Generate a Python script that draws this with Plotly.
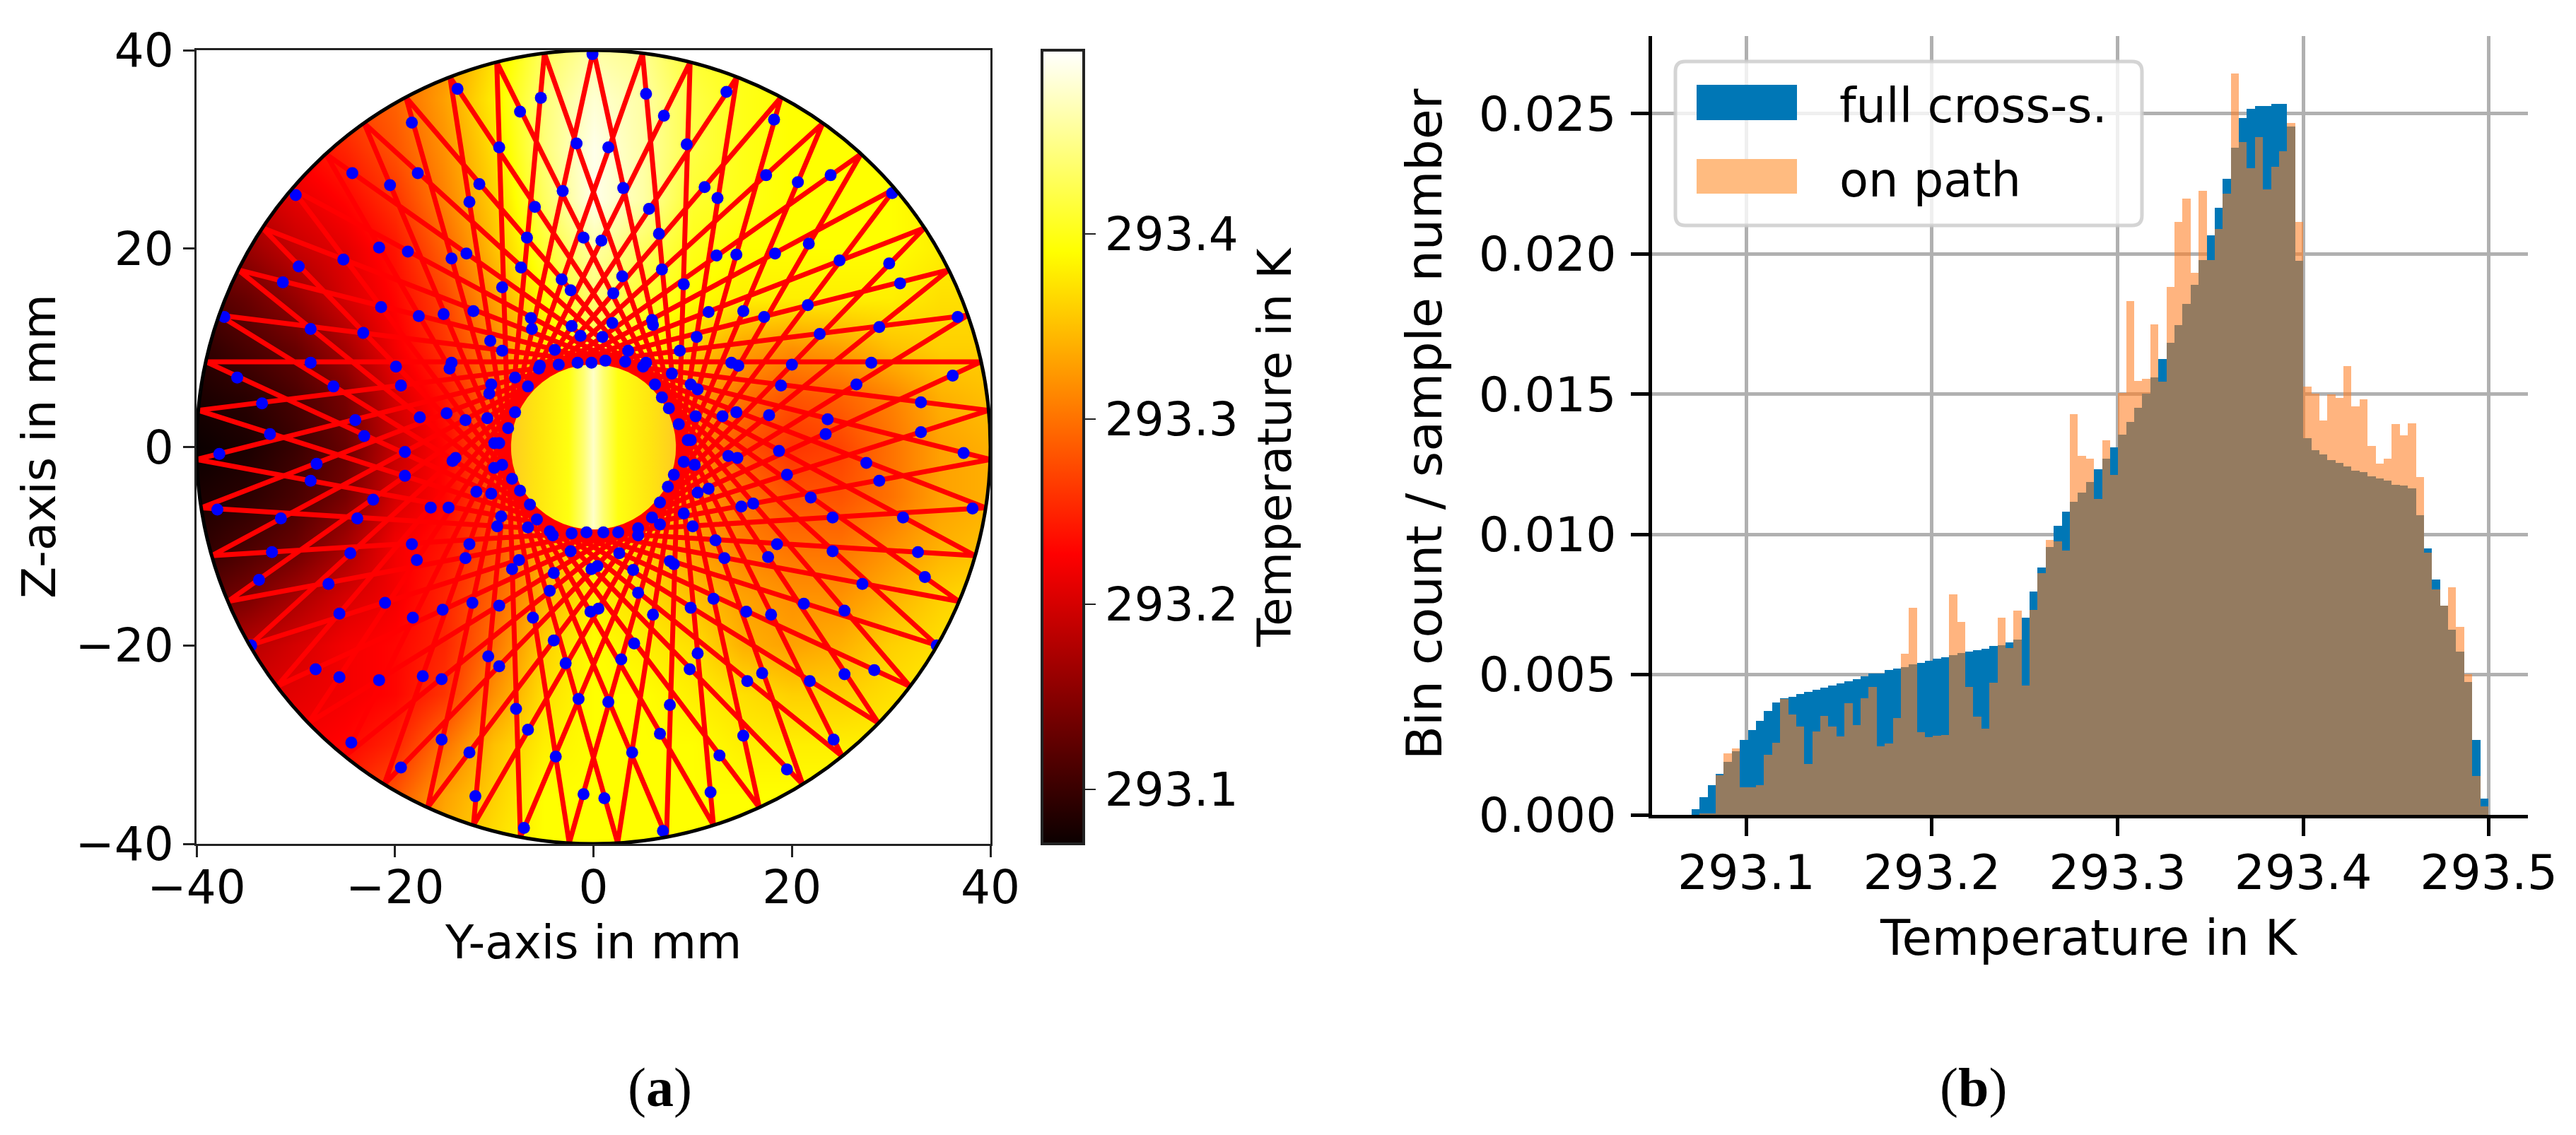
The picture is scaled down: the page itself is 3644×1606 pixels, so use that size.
import numpy as np
import plotly.graph_objects as go

W, H = 3644, 1606

# ---------- panel (a): temperature field (K) ----------
field_y = [-40, -35, -30, -25, -20, -15, -10, -5, 0, 5, 10, 15, 20, 25, 30, 35, 40]
field_z = [40, 35, 30, 25, 20, 15, 10, 5, 0, -5, -10, -15, -20, -25, -30, -35, -40]
field_T_offset = [
    [.27,.27,.28,.29,.30,.32,.37,.43,.46,.45,.41,.40,.40,.39,.39,.39,.39],
    [.24,.25,.26,.27,.29,.33,.38,.44,.48,.46,.42,.40,.39,.39,.39,.39,.39],
    [.21,.22,.23,.25,.28,.32,.37,.44,.49,.46,.42,.40,.39,.39,.39,.39,.39],
    [.18,.19,.21,.23,.26,.31,.36,.43,.49,.46,.41,.40,.39,.39,.39,.38,.38],
    [.15,.16,.19,.21,.24,.29,.35,.41,.46,.43,.40,.39,.39,.39,.39,.38,.38],
    [.11,.13,.16,.20,.23,.27,.33,.39,.44,.41,.39,.38,.38,.38,.38,.37,.37],
    [.09,.11,.13,.17,.22,.26,.31,.37,.42,.39,.36,.33,.32,.33,.35,.36,.36],
    [.08,.09,.11,.14,.20,.24,.30,.37,.41,.37,.33,.30,.28,.29,.31,.34,.35],
    [.07,.08,.10,.13,.19,.23,.29,.36,.40,.36,.32,.28,.26,.27,.30,.33,.34],
    [.08,.09,.11,.14,.20,.23,.28,.35,.39,.36,.33,.30,.28,.28,.30,.33,.34],
    [.09,.11,.13,.17,.22,.24,.28,.34,.38,.36,.33,.31,.30,.30,.32,.34,.35],
    [.12,.14,.17,.20,.22,.25,.29,.34,.38,.37,.35,.33,.32,.32,.34,.36,.37],
    [.16,.18,.20,.22,.23,.25,.30,.36,.39,.38,.37,.34,.33,.34,.36,.37,.38],
    [.19,.20,.21,.22,.23,.26,.32,.37,.39,.39,.38,.37,.36,.36,.37,.38,.38],
    [.21,.22,.22,.23,.25,.30,.35,.38,.39,.39,.39,.38,.38,.38,.38,.38,.38],
    [.22,.23,.24,.25,.28,.33,.36,.39,.39,.39,.39,.39,.39,.39,.39,.39,.39],
    [.23,.24,.25,.27,.30,.34,.37,.39,.39,.39,.39,.39,.39,.39,.39,.39,.39],
]
T_base = 293.0
T_min, T_max = 293.0706, 293.499
wall_radius = 40
hole_radius = 8.3

# angle (deg) of each wall hit of the beam path, in travel order
path_angles = [90.0,-65.3,-220.6,-15.9,-171.2,33.5,-121.8,82.9,-72.4,-227.6,-22.9,-178.2,26.5,
    -128.8,75.9,-79.4,-234.7,-30.0,-185.3,19.4,-135.9,68.8,-86.5,-241.8,-37.1,-192.4,12.4,
    -142.9,61.8,-93.5,-248.8,-44.1,-199.4,5.3,-150.0,54.7,-100.6,-255.9,-51.2,-206.5,-1.8,
    -157.1,47.6,-107.6,-262.9,-58.2,-213.5,-8.8,-164.1,40.6,-114.7,90.0]

# sample positions (Y, Z) in mm
samples = [(-0.1,39.6),(-13.7,36.1),(5.3,35.6),(13.4,35.8),(-5.3,35.2),(-7.4,33.8),(7.1,33.4),(-18.3,32.7),
(18.2,33.0),(-9.5,30.2),(-1.7,30.6),(1.5,30.2),(9.4,30.5),(-24.3,27.6),(-17.7,27.6),(17.4,27.4),(23.9,27.4),
(20.6,26.7),(-11.5,26.5),(-20.5,26.4),(11.2,26.2),(-3.1,25.8),(3.0,26.1),(30.1,25.6),(-30.0,25.4),(12.5,25.1),
(-12.5,24.7),(-5.9,24.2),(5.6,24.0),(-1.0,21.1),(0.8,20.8),(-6.7,21.1),(6.6,21.5),(21.7,20.5),(-21.6,20.1),
(-18.7,19.7),(-12.8,19.5),(12.4,19.3),(14.4,19.4),(18.3,19.5),(-14.3,19.0),(24.8,18.8),(-25.2,18.9),(-29.7,18.2),
(29.8,18.5),(-7.3,18.1),(6.9,17.9),(2.9,17.2),(-3.2,16.9),(-31.3,16.6),(30.9,16.5),(9.1,16.4),(-9.2,16.1),
(-2.3,15.8),(2.0,15.5),(-21.4,14.1),(21.6,14.3),(-12.1,13.7),(11.6,13.6),(15.1,13.7),(-17.6,13.2),(-15.1,13.4),
(-37.2,13.1),(36.7,13.1),(17.2,13.1),(-6.3,13.0),(5.9,12.8),(6.0,12.3),(-2.2,12.2),(-6.2,11.9),(1.9,12.5),
(28.8,12.1),(-28.5,11.9),(-23.2,11.5),(22.8,11.4),(-1.3,11.2),(0.9,11.1),(10.4,11.1),(-10.4,10.7),(-9.2,9.7),
(-3.9,9.8),(3.5,9.7),(8.7,9.7),(-28.5,8.5),(-14.3,8.5),(13.9,8.5),(14.6,8.2),(20.0,8.3),(28.0,8.5),(-19.9,8.1),
(-14.5,7.9),(-5.4,8.2),(-5.5,7.9),(-3.5,8.3),(-1.6,8.5),(-0.2,8.5),(1.2,8.7),(3.2,8.6),(5.0,8.1),(5.3,8.5),
(7.9,7.4),(-35.9,7.0),(36.2,7.2),(-7.9,7.0),(-10.3,6.3),(-19.4,6.2),(18.9,6.2),(26.5,6.3),(-6.6,6.1),(6.2,6.3),
(9.8,6.3),(10.5,5.8),(-26.2,6.1),(-10.5,5.4),(6.9,5.0),(-33.4,4.4),(33.0,4.5),(-7.9,3.5),(7.6,3.9),(14.4,3.5),
(-14.8,3.4),(13.0,3.1),(10.3,3.1),(17.7,3.2),(-17.5,3.0),(-10.7,2.9),(-12.9,2.7),(-24.0,2.7),(23.6,2.8),(8.6,2.3),
(-8.6,1.9),(-32.6,1.3),(-23.1,1.1),(33.0,1.5),(23.4,1.3),(-10.0,0.4),(-9.5,0.4),(9.5,0.7),(9.8,0.7),(-37.7,-0.7),
(-19.0,-0.5),(18.7,-0.4),(37.3,-0.6),(-14.2,-1.4),(-13.9,-1.1),(13.6,-0.9),(14.5,-1.1),(9.1,-1.5),(10.2,-1.8),
(-27.9,-1.7),(27.5,-1.6),(-9.2,-1.8),(-10.0,-2.1),(-19.0,-2.9),(19.5,-2.8),(8.1,-2.8),(-8.2,-3.2),(28.8,-3.4),
(-28.5,-3.4),(7.5,-4.0),(-7.4,-4.4),(11.6,-4.2),(10.5,-4.6),(-11.8,-4.5),(-10.3,-4.7),(21.9,-5.1),(-22.2,-5.3),
(-6.4,-5.8),(6.7,-5.6),(16.1,-5.7),(14.9,-6.0),(-16.4,-6.1),(-14.6,-6.1),(-37.9,-6.3),(38.2,-6.2),(9.1,-6.7),
(24.1,-7.1),(31.2,-7.1),(-31.5,-7.2),(-23.8,-7.2),(-9.3,-7.0),(-5.7,-7.3),(5.9,-7.1),(6.7,-7.8),(-9.7,-8.0),
(10.0,-8.0),(-6.6,-8.1),(4.5,-8.2),(-4.4,-8.5),(-4.1,-8.9),(-2.2,-8.7),(-0.7,-8.6),(1.0,-8.6),(2.5,-8.6),(4.5,-8.9),
(-18.3,-9.8),(-12.5,-9.8),(12.3,-9.4),(18.5,-9.8),(-32.4,-10.6),(-24.5,-10.7),(-2.3,-10.5),(2.6,-10.7),(24.1,-10.5),
(32.7,-10.6),(-17.8,-11.4),(-12.9,-11.2),(17.6,-11.1),(13.2,-11.2),(-7.5,-11.4),(7.7,-11.5),(8.1,-11.8),(-8.2,-12.3),
(-0.2,-12.3),(0.4,-12.0),(4.0,-12.4),(-4.0,-12.7),(33.4,-13.1),(-33.7,-13.4),(-26.7,-13.8),(27.1,-13.8),(-4.4,-14.5),
(4.5,-14.7),(12.1,-15.3),(-21.0,-15.7),(-12.2,-15.7),(21.2,-15.8),(-15.2,-16.4),(-9.5,-16.0),(9.8,-16.2),(15.4,-16.6),
(-0.3,-16.6),(0.5,-16.3),(-25.6,-16.8),(25.3,-16.5),(-18.2,-17.2),(-6.1,-17.2),(6.0,-16.9),(17.9,-16.9),(-4.0,-19.5),
(4.1,-19.8),(-34.5,-20.0),(34.6,-20.0),(-10.6,-21.1),(10.5,-20.8),(-9.5,-22.1),(-2.8,-21.8),(2.8,-21.4),(-28.0,-22.4),
(9.7,-22.4),(-17.2,-23.1),(-25.6,-23.2),(-15.3,-23.4),(-21.6,-23.5),(17.0,-22.8),(15.5,-23.6),(21.8,-23.6),(28.3,-22.5),
(25.3,-22.9),(-1.5,-25.4),(1.5,-25.7),(7.7,-26.0),(-7.8,-26.4),(-6.6,-28.5),(6.7,-28.9),(-15.3,-29.5),(15.1,-29.1),
(24.2,-29.5),(-24.4,-29.8),(-12.5,-30.8),(-3.8,-31.2),(3.9,-30.8),(12.7,-31.1),(-19.4,-32.3),(19.5,-32.5),(11.8,-34.8),
(-1.0,-35.0),(1.1,-35.4),(-11.9,-35.2),(-7.0,-38.4),(7.0,-38.7)]

left_ticks = [-40, -20, 0, 20, 40]
colorbar_ticks = [293.1, 293.2, 293.3, 293.4]

# ---------- panel (b): histogram values ----------
bin_start = 293.0705
bin_width = 0.004336
full_cross_section = [
.00019,.00063,.00107,.00147,.00188,.00228,.00266,.00302,.00336,.00370,
.00401,.00417,.00421,.00432,.00438,.00446,.00453,.00461,.00469,.00477,
.00485,.00494,.00503,.00505,.00516,.00521,.00527,.00537,.00543,.00549,
.00556,.00562,.00569,.00576,.00583,.00588,.00593,.00603,.00606,.00614,
.00624,.00703,.00797,.00881,.00956,.01031,.01081,.01116,.01150,.01187,
.01232,.01271,.01310,.01357,.01400,.01452,.01502,.01560,.01625,.01683,
.01747,.01823,.01890,.01978,.02066,.02164,.02268,.02379,.02484,.02517,
.02527,.02527,.02535,.02535,.02454,.01975,.01344,.01300,.01285,.01266,
.01254,.01242,.01228,.01223,.01207,.01200,.01192,.01178,.01174,.01165,
.01068,.00949,.00840,.00746,.00661,.00583,.00475,.00266,.00057]
on_path = [
0,.00005,.00005,.00142,.00218,.00236,.00099,.00099,.00106,.00215,
.00258,.00414,.00359,.00314,.00182,.00297,.00353,.00314,.00280,.00399,
.00320,.00415,.00457,.00244,.00254,.00344,.00575,.00738,.00295,.00277,
.00283,.00286,.00785,.00688,.00457,.00351,.00307,.00472,.00703,.00594,
.00728,.00461,.00730,.00861,.00981,.00975,.00942,.01429,.01279,.01271,
.01126,.01335,.01213,.01504,.01831,.01547,.01554,.01748,.01544,.01883,
.02114,.02197,.01934,.02224,.01977,.02090,.02216,.02643,.02398,.02306,
.02416,.02231,.02311,.02367,.02466,.02114,.01528,.01502,.01407,.01499,
.01486,.01599,.01457,.01481,.01315,.01252,.01271,.01394,.01352,.01397,
.01204,.00936,.00804,.00746,.00811,.00671,.00501,.00138,.00031]
right_x_ticks = [293.1, 293.2, 293.3, 293.4, 293.5]
right_y_ticks = [0, 0.005, 0.010, 0.015, 0.020, 0.025]
series_names = ["full cross-s.", "on path"]

BLUE = "#0077b6"
ORANGE = "rgba(255,126,35,0.58)"
FONT = "DejaVu Sans"
FS = 66
FS2 = 68

def px(x):
    return x / W
def py(y):
    return 1 - y / H

hot = [[0, "#0b0000"], [0.365, "#ff0000"], [0.746, "#ffff00"], [1, "#ffffff"]]

fig = go.Figure()

fig.add_trace(go.Heatmap(
    x=field_y, y=field_z, z=(np.array(field_T_offset) + T_base).tolist(),
    colorscale=hot, zmin=T_min, zmax=T_max, zsmooth="best", xaxis="x", yaxis="y",
    colorbar=dict(
        x=px(1474), xanchor="left", xpad=0, y=py(71), yanchor="top", ypad=0,
        lenmode="pixels", len=1123, thicknessmode="pixels", thickness=59,
        outlinecolor="#222222", outlinewidth=4,
        tickmode="array", tickvals=colorbar_ticks, ticktext=[f"{t:.1f}" for t in colorbar_ticks],
        ticks="outside", ticklen=15, tickwidth=2, tickcolor="#222222",
        tickfont=dict(family=FONT, size=FS, color="black"),
    ),
    hoverinfo="skip",
))

# central bore: a disc with a left-to-right gradient
t = np.linspace(0, 2 * np.pi, 181)
fig.add_trace(go.Scatter(
    x=hole_radius * np.cos(t), y=hole_radius * np.sin(t), mode="lines",
    line=dict(width=0, color="rgba(0,0,0,0)"), fill="toself",
    fillgradient=dict(type="horizontal", start=-hole_radius, stop=hole_radius,
                      colorscale=[[0, "#ffcc20"], [0.15, "#ffe410"], [0.35, "#ffff10"], [0.44, "#ffff70"],
                                  [0.5, "#ffffc8"], [0.56, "#ffff70"], [0.65, "#ffff10"], [0.85, "#ffe410"], [1, "#ffcc20"]]),
    showlegend=False, hoverinfo="skip", xaxis="x", yaxis="y",
))

ang = np.radians(path_angles)
fig.add_trace(go.Scatter(
    x=wall_radius * np.cos(ang), y=wall_radius * np.sin(ang), mode="lines",
    line=dict(color="#ff0000", width=7), showlegend=False, hoverinfo="skip", xaxis="x", yaxis="y",
))
fig.add_trace(go.Scatter(
    x=[p[0] for p in samples], y=[p[1] for p in samples], mode="markers",
    marker=dict(color="#0000ff", size=17, line=dict(width=0)),
    showlegend=False, hoverinfo="skip", xaxis="x", yaxis="y",
))

fig.add_trace(go.Bar(
    y=full_cross_section, x0=bin_start + bin_width / 2, dx=bin_width, width=bin_width,
    marker=dict(color=BLUE, line=dict(width=0)), name=series_names[0],
    showlegend=False, xaxis="x2", yaxis="y2",
))
fig.add_trace(go.Bar(
    y=on_path, x0=bin_start + bin_width / 2, dx=bin_width, width=bin_width,
    marker=dict(color=ORANGE, line=dict(width=0)), name=series_names[1],
    showlegend=False, xaxis="x2", yaxis="y2",
))

thin = dict(showline=True, linecolor="#222222", linewidth=3, mirror=True, showgrid=False, zeroline=False,
            ticks="outside", ticklen=16, tickwidth=3, tickcolor="#222222",
            tickfont=dict(family=FONT, size=FS, color="black"), tickmode="array",
            tickvals=left_ticks, ticktext=[str(v).replace("-", "\u2212") for v in left_ticks], range=[-40, 40])
thick = dict(showline=True, linecolor="black", linewidth=5, showgrid=True, gridcolor="#b0b0b0", gridwidth=5,
             zeroline=False, ticks="outside", ticklen=25, tickwidth=5, tickcolor="black",
             tickfont=dict(family=FONT, size=FS2, color="black"), tickmode="array")

def pill(x0, y0, x1, y1, r):
    a, b, c, d = px(x0), px(x1), py(y0), py(y1)
    rx, ry = r / W, r / H
    return (f"M {a+rx} {c} L {b-rx} {c} Q {b} {c} {b} {c-ry} L {b} {d+ry} Q {b} {d} {b-rx} {d} "
            f"L {a+rx} {d} Q {a} {d} {a} {d+ry} L {a} {c-ry} Q {a} {c} {a+rx} {c} Z")

k = 0.5523 * wall_radius
wall_path = (f"M -40 0 C -40 {k} {-k} 40 0 40 C {k} 40 40 {k} 40 0 "
             f"C 40 {-k} {k} -40 0 -40 C {-k} -40 -40 {-k} -40 0 Z")

shapes = [
    # white outside the wall
    dict(type="path", xref="x", yref="y", layer="above", line=dict(width=0), fillcolor="white",
         path="M -40 -40 H 40 V 40 H -40 Z " + wall_path),
    dict(type="circle", xref="x", yref="y", x0=-40, x1=40, y0=-40, y1=40, layer="above",
         line=dict(color="black", width=5), fillcolor="rgba(0,0,0,0)"),
    # legend
    dict(type="path", xref="paper", yref="paper", layer="above", path=pill(2370, 87, 3030, 319, 14),
         fillcolor="rgba(255,255,255,0.8)", line=dict(color="rgba(204,204,204,0.85)", width=5)),
    dict(type="rect", xref="paper", yref="paper", layer="above", x0=px(2400), x1=px(2542), y0=py(120), y1=py(170),
         fillcolor=BLUE, line=dict(width=0)),
    dict(type="rect", xref="paper", yref="paper", layer="above", x0=px(2400), x1=px(2542), y0=py(225), y1=py(274),
         fillcolor="rgb(255,187,128)", line=dict(width=0)),
]

def text(s, x, y, size=FS, angle=0, xanchor="center", family=FONT):
    return dict(text=s, x=px(x), y=py(y), xref="paper", yref="paper", showarrow=False, textangle=angle,
                xanchor=xanchor, yanchor="middle", align="center",
                font=dict(family=family, size=size, color="black"))

annotations = [
    text("Y-axis in mm", 839, 1333),
    text("Z-axis in mm", 55, 632, angle=-90),
    text("Temperature in K", 1803, 633, angle=-90),
    text("Temperature in K", 2955, 1327, size=69),
    text("Bin count / sample number", 2015, 600, size=70, angle=-90),
    text(series_names[0], 2600, 150, size=67, xanchor="left"),
    text(series_names[1], 2600, 255, size=67, xanchor="left"),
    text("(<b>a</b>)", 933, 1538, size=78, family="Liberation Serif"),
    text("(<b>b</b>)", 2791, 1538, size=78, family="Liberation Serif"),
]

fig.update_layout(
    width=W, height=H, autosize=False, margin=dict(l=0, r=0, t=0, b=0, pad=0, autoexpand=False),
    paper_bgcolor="white", plot_bgcolor="white", barmode="overlay", bargap=0, showlegend=False,
    xaxis=dict(domain=[px(278), px(1401)], anchor="y", ticklabelstandoff=-14, **thin),
    yaxis=dict(domain=[py(1194), py(71)], anchor="x", **thin),
    xaxis2=dict(domain=[px(2337), px(3576)], anchor="y2", range=[293.0492, 293.5211], ticklabelstandoff=-7,
                tickvals=right_x_ticks, ticktext=[f"{v:.1f}" for v in right_x_ticks], **thick),
    yaxis2=dict(domain=[py(1153), py(51)], anchor="x2", range=[0, 0.02777], ticklabelstandoff=7,
                tickvals=right_y_ticks, ticktext=[f"{v:.3f}" for v in right_y_ticks], **thick),
    shapes=shapes, annotations=annotations,
)

fig.write_html("out.html", config={"displayModeBar": False},
               post_script="document.body.style.margin='0';document.body.style.overflow='hidden';")
